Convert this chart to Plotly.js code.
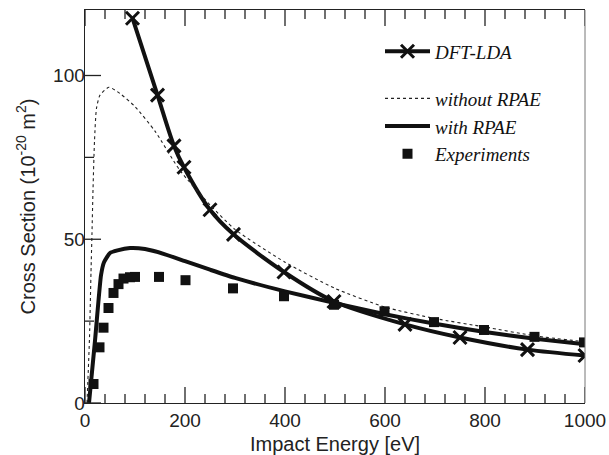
<!DOCTYPE html>
<html>
<head>
<meta charset="utf-8">
<script src="https://cdn.plot.ly/plotly-3.0.1.min.js"></script>
<style>html,body{margin:0;padding:0;background:#fff;}#chart{width:609px;height:455px;}</style>
</head>
<body>
<div id="chart"></div>
<script>
// DFT-LDA (crosses)
const dftX = [95, 145, 178, 198, 250, 297, 398, 498, 640, 750, 885, 1000];
const dftY = [117.5, 94, 78.5, 72, 59, 51.5, 40, 31, 24, 20, 16.3, 14.5];

// without RPAE (dotted)
const woX = [4, 9, 12, 14, 16, 19, 23, 30, 48, 70, 100, 140, 190, 250, 300, 400, 500, 600, 700, 800, 900, 1000];
const woY = [0, 20, 40, 52, 65, 80, 90, 94, 96.4, 94.5, 90.5, 83, 71, 60.5, 53, 43, 35, 29.3, 25.8, 23.2, 20.5, 18.7];

// with RPAE (solid)
const wX = [8, 20, 32, 38, 50, 65, 90, 120, 160, 200, 250, 300, 400, 500, 600, 700, 800, 900, 1000];
const wY = [0, 19, 39, 43, 45.8, 46.6, 47.3, 47, 45.4, 43.3, 40.7, 38.2, 34.1, 30.5, 27.1, 24.2, 21.7, 19.6, 17.9];

// Experiments (squares)
const expX = [17, 29, 37, 47, 57, 67, 77, 90, 100, 148, 201, 296, 398, 498, 599, 698, 798, 899, 998];
const expY = [5.8, 17, 23, 29, 33.6, 36.3, 38, 38.4, 38.5, 38.5, 37.5, 35, 32.6, 30, 28, 24.7, 22.3, 20.2, 18.5];

// axis ticks
const xMajor = [0, 200, 400, 600, 800, 1000];
const xMinorStep = 40;
const yMajor = [0, 50, 100];
const yMinorStep = 25;
const xRange = [0, 1000], yRange = [0, 120];

const W = 609, H = 455;
const M = {l: 85, r: 24, t: 10, b: 52};
const plotW = W - M.l - M.r, plotH = H - M.t - M.b;
// pixel tick lengths converted to axis units
const xPerPx = (xRange[1] - xRange[0]) / plotW;
const yPerPx = (yRange[1] - yRange[0]) / plotH;

const legendFont = {family: 'Liberation Serif', size: 19, style: 'italic', color: '#111'};
const clear = 'rgba(0,0,0,0)';
const tickLine = {color: '#222', width: 1.3};

const shapes = [];
function xTick(v, len) {
  const d = len * yPerPx;
  shapes.push({type: 'line', layer: 'above', xref: 'x', yref: 'y',
               x0: v, x1: v, y0: yRange[0], y1: yRange[0] + d, line: tickLine});
  shapes.push({type: 'line', layer: 'above', xref: 'x', yref: 'y',
               x0: v, x1: v, y0: yRange[1], y1: yRange[1] - d, line: tickLine});
}
function yTick(v, len) {
  const d = len * xPerPx;
  shapes.push({type: 'line', layer: 'above', xref: 'x', yref: 'y',
               y0: v, y1: v, x0: xRange[0], x1: xRange[0] + d, line: tickLine});
}
for (let v = xRange[0]; v <= xRange[1]; v += xMinorStep) {
  xTick(v, xMajor.includes(v) ? 16 : 9);
}
for (let v = yRange[0]; v < yRange[1]; v += yMinorStep) {
  yTick(v, yMajor.includes(v) ? 16 : 9);
}
// right frame line (grey, no ticks)
shapes.push({type: 'line', layer: 'above', xref: 'paper', yref: 'paper', x0: 1, x1: 1, y0: 0, y1: 1,
             line: {color: '#777', width: 1}});

const traces = [
  {x: dftX, y: dftY, name: 'DFT-LDA', mode: 'lines+markers', legend: 'legend',
   line: {color: '#111', width: 4, shape: 'spline', smoothing: 0.8},
   marker: {symbol: 'x-thin', size: 13, color: '#111', line: {color: '#111', width: 3}}},
  {x: woX, y: woY, name: 'without RPAE', mode: 'lines', legend: 'legend2',
   line: {color: '#222', width: 1.1, dash: 'dot', shape: 'spline', smoothing: 0.6}},
  {x: wX, y: wY, name: 'with RPAE', mode: 'lines', legend: 'legend2',
   line: {color: '#111', width: 4, shape: 'spline', smoothing: 0.5}},
  {x: expX, y: expY, name: 'Experiments', mode: 'markers', legend: 'legend2',
   marker: {symbol: 'square', size: 10, color: '#111'}}
];

const layout = {
  width: W, height: H,
  margin: M,
  font: {family: 'Liberation Sans', size: 19, color: '#222'},
  xaxis: {
    range: xRange, tickvals: xMajor, ticks: '',
    showline: true, linecolor: '#222', linewidth: 1.4, mirror: true,
    gridcolor: clear, zerolinecolor: clear,
    tickfont: {family: 'Liberation Sans', size: 19, color: '#222'},
    title: {text: 'Impact Energy [eV]', font: {family: 'Liberation Sans', size: 20, color: '#222'}}
  },
  yaxis: {
    range: yRange, tickvals: yMajor, ticks: '',
    showline: true, linecolor: '#222', linewidth: 1.4,
    gridcolor: clear, zerolinecolor: clear, ticklabelstandoff: -5,
    tickfont: {family: 'Liberation Sans', size: 19, color: '#222'},
    title: {text: 'Cross Section (10<sup>-20</sup> m<sup>2</sup>)', font: {family: 'Liberation Sans', size: 20, color: '#222'}}
  },
  shapes: shapes,
  showlegend: true,
  legend: {x: 0.59, y: 0.943, xanchor: 'left', yanchor: 'top', bgcolor: clear,
           font: legendFont, itemwidth: 45, tracegroupgap: 0},
  legend2: {x: 0.59, y: 0.823, xanchor: 'left', yanchor: 'top', bgcolor: clear,
            font: legendFont, itemwidth: 45, tracegroupgap: 0}
};

Plotly.newPlot('chart', traces, layout, {displayModeBar: false, staticPlot: true});
</script>
</body>
</html>
